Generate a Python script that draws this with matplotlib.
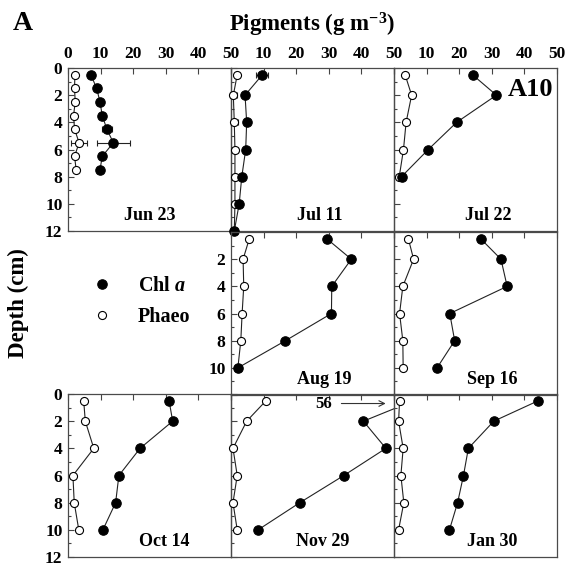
import matplotlib.pyplot as plt
from matplotlib.lines import Line2D
import numpy as np

plt.rcParams['font.family'] = ['Liberation Serif', 'DejaVu Serif']
plt.rcParams['font.weight'] = 'bold'
plt.rcParams['mathtext.fontset'] = 'custom'
plt.rcParams['mathtext.rm'] = 'Liberation Serif:bold'
plt.rcParams['mathtext.bf'] = 'Liberation Serif:bold'
plt.rcParams['mathtext.it'] = 'Liberation Serif:bold:italic'

# depth profiles of pigment concentration, one list per sampling date
depth_jun23 = [0.5, 1.5, 2.5, 3.5, 4.5, 5.5, 6.5, 7.5]
chl_jun23 = [7.0, 8.8, 9.8, 10.5, 11.9, 13.9, 10.5, 9.8]
chl_err_jun23 = [0.3, 0.3, 0.4, 0.3, 1.5, 5.0, 0.4, 0.3]
phaeo_jun23 = [2.1, 2.0, 2.2, 1.7, 2.0, 3.4, 2.0, 2.5]
phaeo_err_jun23 = [0.3, 0.3, 1.0, 0.8, 0.4, 2.4, 0.3, 0.2]

depth_jul11 = [0.5, 2, 4, 6, 8, 10, 12]
chl_jul11 = [9.6, 4.3, 4.8, 4.5, 3.3, 2.5, 1.0]
chl_err_jul11 = [1.8, 0.4, 0.4, 0.4, 0.4, 0.3, 0.3]
phaeo_jul11 = [1.9, 0.7, 1.0, 1.2, 1.2, 1.2, 1.0]
phaeo_err_jul11 = [0.5, 1.0, 1.0, 1.0, 1.0, 1.0, 0.3]

depth_jul22 = [0.5, 2, 4, 6, 8]
chl_jul22 = [24.1, 31.4, 19.2, 10.5, 2.3]
phaeo_jul22 = [3.4, 5.4, 3.7, 2.9, 1.6]

depth_aug19 = [0.5, 2, 4, 6, 8, 10]
chl_aug19 = [29.4, 36.9, 30.9, 30.8, 16.7, 2.1]
phaeo_aug19 = [5.6, 3.7, 3.9, 3.4, 3.0, 2.1]

depth_sep16 = [0.5, 2, 4, 6, 8, 10]
chl_sep16 = [26.6, 32.8, 34.7, 17.1, 18.6, 13.2]
phaeo_sep16 = [4.4, 6.0, 2.7, 1.7, 2.7, 2.8]

depth_oct14 = [0.5, 2, 4, 6, 8, 10]
chl_oct14 = [31.0, 32.1, 22.1, 15.6, 14.6, 10.7]
phaeo_oct14 = [4.8, 5.3, 7.9, 1.5, 1.9, 3.3]

depth_nov29 = [0.5, 2, 4, 6, 8, 10]
chl_nov29 = [56.0, 40.6, 47.5, 34.6, 21.1, 8.3]
phaeo_nov29 = [10.7, 4.8, 0.6, 1.9, 0.6, 1.9]

depth_jan30 = [0.5, 2, 4, 6, 8, 10]
chl_jan30 = [44.2, 30.6, 22.8, 21.3, 19.5, 17.0]
phaeo_jan30 = [1.7, 1.4, 2.8, 2.1, 3.0, 1.4]

# panel geometry in figure fractions
lefts = [0.1204, 0.4089, 0.6974]
width = 0.2885
bottoms = [0.5904, 0.2996, 0.0124]
height = 0.2890

fig = plt.figure(figsize=(5.65, 5.64), dpi=100)

line_kw = dict(color='#222222', lw=0.8)
chl_kw = dict(marker='o', ms=6.8, mfc='black', mec='black', mew=0.8)
phaeo_kw = dict(marker='o', ms=5.8, mfc='white', mec='black', mew=0.8)
err_kw = dict(ecolor='#222222', elinewidth=0.8, capsize=2.5, capthick=0.8)


def panel(row, col, depth, chl, phaeo, date, date_x,
          chl_err=None, phaeo_err=None, clip=False):
    ax = fig.add_axes([lefts[col], bottoms[row], width, height])
    ax.patch.set_alpha(0)
    ax.errorbar(phaeo, depth, xerr=phaeo_err, **line_kw, **phaeo_kw,
                **err_kw, clip_on=False, zorder=3)
    ax.errorbar(chl, depth, xerr=chl_err, **line_kw, **chl_kw,
                **err_kw, clip_on=clip, zorder=4)
    ax.set_xlim(0, 50)
    ax.set_ylim(12, 0)
    ax.xaxis.tick_top()
    ax.set_xticks([0, 10, 20, 30, 40, 50])
    ax.set_yticks(np.arange(0, 13, 2))
    ax.set_yticks(np.arange(0, 13, 1), minor=True)
    ax.tick_params(which='both', direction='in', color='#444444',
                   width=0.8, labelsize=12.5, pad=4)
    ax.tick_params(which='major', length=4.5)
    ax.tick_params(which='minor', length=2.5)
    ax.tick_params(axis='x', which='minor', top=False, bottom=False)
    for s in ax.spines.values():
        s.set_color('#4a4a4a')
        s.set_linewidth(0.9)

    if row == 0:
        labels = ['' if (v == 0 and col > 0) else str(v)
                  for v in [0, 10, 20, 30, 40, 50]]
        ax.set_xticklabels(labels)
    else:
        ax.set_xticklabels([])
    if col == 0 or (row == 1 and col == 1):
        if row == 1:
            ax.set_yticklabels(['', '2', '4', '6', '8', '10', ''])
        else:
            ax.set_yticklabels([str(v) for v in range(0, 13, 2)])
    else:
        ax.set_yticklabels([])
    ax.text(date_x, 10.85, date, ha='center', va='center', fontsize=13,
            fontweight='bold')
    return ax


panel(0, 0, depth_jun23, chl_jun23, phaeo_jun23, 'Jun 23', 25,
      chl_err_jun23, phaeo_err_jun23)
panel(0, 1, depth_jul11, chl_jul11, phaeo_jul11, 'Jul 11', 27.2,
      chl_err_jul11, phaeo_err_jul11)
ax_jul22 = panel(0, 2, depth_jul22, chl_jul22, phaeo_jul22, 'Jul 22', 29)
panel(1, 1, depth_aug19, chl_aug19, phaeo_aug19, 'Aug 19', 28.6)
panel(1, 2, depth_sep16, chl_sep16, phaeo_sep16, 'Sep 16', 30.2)
panel(2, 0, depth_oct14, chl_oct14, phaeo_oct14, 'Oct 14', 29.5)
ax_nov29 = panel(2, 1, depth_nov29, chl_nov29, phaeo_nov29, 'Nov 29', 28.1,
                 clip=True)
panel(2, 2, depth_jan30, chl_jan30, phaeo_jan30, 'Jan 30', 30)

ax_jul22.text(48.8, 1.6, 'A10', ha='right', va='center', fontsize=19,
              fontweight='bold')

# off-scale surface value in Nov 29
ax_nov29.annotate('', xy=(48.3, 0.7), xytext=(33, 0.7),
                  arrowprops=dict(arrowstyle='->', color='#333333', lw=0.8))
ax_nov29.text(28.4, 0.7, str(int(chl_nov29[0])), ha='center', va='center',
              fontsize=12, fontweight='bold')

fig.text(0.552, 0.955, 'Pigments (g m$^{-3}$)', ha='center', va='center',
         fontsize=16.5, fontweight='bold')
fig.text(0.04, 0.958, 'A', ha='center', va='center', fontsize=20,
         fontweight='bold')
fig.text(0.033, 0.463, 'Depth (cm)', rotation=90, ha='center', va='center',
         fontsize=16.5, fontweight='bold')

handles = [Line2D([], [], ls='none', **chl_kw),
           Line2D([], [], ls='none', **phaeo_kw)]
fig.legend(handles, ['Chl $\\mathit{a}$', 'Phaeo'], loc='center left',
           bbox_to_anchor=(0.13, 0.465), frameon=False, fontsize=14.5,
           handletextpad=1.3, labelspacing=0.55, handlelength=1.0)

fig.savefig('out.png', dpi=100)
